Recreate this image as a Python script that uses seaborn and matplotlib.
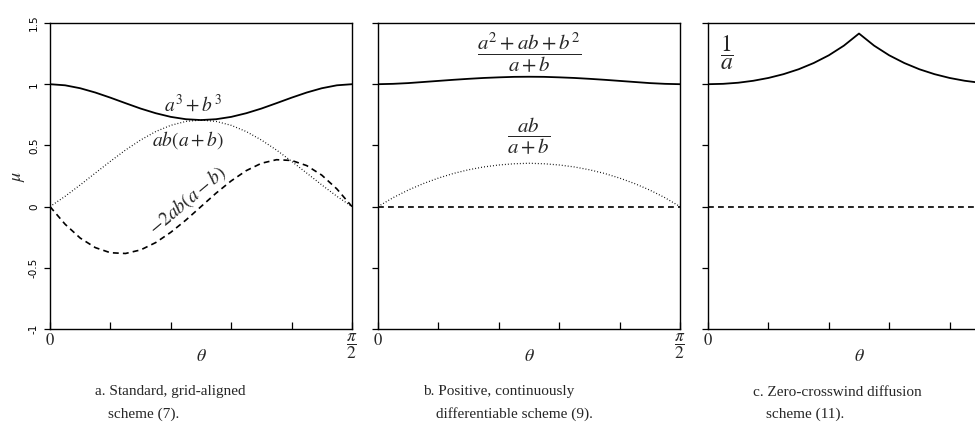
import matplotlib
matplotlib.use("Agg")
import matplotlib.pyplot as plt
import seaborn as sns
import pandas as pd

# angulo theta em graus (0 .. pi/2)
theta = [0, 4.5, 9, 13.5, 18, 22.5, 27, 31.5, 36, 40.5, 45,
         49.5, 54, 58.5, 63, 67.5, 72, 76.5, 81, 85.5, 90]

# painel a: esquema padrao
a3_b3 = [1.000, 0.991, 0.967, 0.932, 0.890, 0.845, 0.801, 0.763, 0.733, 0.714, 0.707,
         0.714, 0.733, 0.763, 0.801, 0.845, 0.890, 0.932, 0.967, 0.991, 1.000]
ab_apb = [0.000, 0.084, 0.177, 0.274, 0.370, 0.462, 0.544, 0.613, 0.664, 0.696, 0.707,
          0.696, 0.664, 0.613, 0.544, 0.462, 0.370, 0.274, 0.177, 0.084, 0.000]
m2ab_amb = [0.000, -0.144, -0.257, -0.335, -0.377, -0.383, -0.354, -0.294, -0.210, -0.110, 0.000,
            0.110, 0.210, 0.294, 0.354, 0.383, 0.377, 0.335, 0.257, 0.144, 0.000]

# painel b: positivo, continuamente diferenciavel
pos_top = [1.000, 1.003, 1.009, 1.018, 1.027, 1.036, 1.044, 1.051, 1.056, 1.060, 1.061,
           1.060, 1.056, 1.051, 1.044, 1.036, 1.027, 1.018, 1.009, 1.003, 1.000]
pos_low = [0.000, 0.073, 0.135, 0.188, 0.233, 0.271, 0.301, 0.324, 0.340, 0.350, 0.354,
           0.350, 0.340, 0.324, 0.301, 0.271, 0.233, 0.188, 0.135, 0.073, 0.000]

# painel c: difusao transversal nula
zc_top = [1.000, 1.003, 1.012, 1.028, 1.051, 1.082, 1.122, 1.173, 1.236, 1.315, 1.414,
          1.315, 1.236, 1.173, 1.122, 1.082, 1.051, 1.028, 1.012, 1.003, 1.000]

theta_ends = [0, 90]
flat = [0.0, 0.0]

y_ticks = [-1, -0.5, 0, 0.5, 1, 1.5]
y_ticklabels = ['-1', '-0.5', '0', '0.5', '1', '1.5']

captions = [("a. Standard, grid-aligned", "scheme (7)."),
            ("b. Positive, continuously", "differentiable scheme (9)."),
            ("c. Zero-crosswind diffusion", "scheme (11).")]

# preparativos
sns.set_theme(style="ticks")
plt.rcParams['mathtext.fontset'] = 'stix'
plt.rcParams['font.family'] = ['DejaVu Sans']

fig = plt.figure(figsize=(9.75, 4.38), dpi=100)
W, H = 975, 438
lefts = [50, 378, 708]
axes = [fig.add_axes([l / W, 1 - 329 / H, 302 / W, 306 / H]) for l in lefts]

df = pd.DataFrame({'theta': theta, 'a3': a3_b3, 'ab': ab_apb, 'm2': m2ab_amb,
                   'pt': pos_top, 'pl': pos_low, 'zc': zc_top})
dz = pd.DataFrame({'theta': theta_ends, 'y': flat})

solid = dict(color='black', linewidth=1.3)
dashed = dict(color='black', linewidth=1.2, dashes=(3.5, 2.5))
dotted = dict(color='black', linewidth=0.9, dashes=(0.7, 1.7))

ax = axes[0]
sns.lineplot(data=df, x='theta', y='a3', ax=ax, **solid)
sns.lineplot(data=df, x='theta', y='ab', ax=ax, **dotted)
sns.lineplot(data=df, x='theta', y='m2', ax=ax, **dashed)

ax = axes[1]
sns.lineplot(data=df, x='theta', y='pt', ax=ax, **solid)
sns.lineplot(data=df, x='theta', y='pl', ax=ax, **dotted)
sns.lineplot(data=dz, x='theta', y='y', ax=ax, **dashed)

ax = axes[2]
sns.lineplot(data=df, x='theta', y='zc', ax=ax, **solid)
sns.lineplot(data=dz, x='theta', y='y', ax=ax, **dashed)

for i, ax in enumerate(axes):
    ax.set_xlim(0, 90)
    ax.set_ylim(-1, 1.5)
    ax.set_xlabel('')
    ax.set_ylabel('')
    for s in ax.spines.values():
        s.set_visible(True)
        s.set_linewidth(1.0)
        s.set_color('black')
    ax.set_xticks([0, 18, 36, 54, 72, 90])
    ax.set_xticklabels([])
    ax.tick_params(axis='x', direction='in', length=5, width=0.9, colors='black')
    ax.set_yticks(y_ticks)
    if i == 0:
        ax.set_yticklabels(y_ticklabels, rotation=90, va='center', fontsize=7.5)
    else:
        ax.set_yticklabels([])
    ax.tick_params(axis='y', direction='out', length=4, width=0.9, colors='black',
                   pad=4)
    # rotulos do eixo x
    ax.text(0, -1.1, '0', ha='center', va='center', fontsize=12,
            family='STIXGeneral', clip_on=False)
    ax.text(45, -1.22, r'$\theta$', ha='center', va='center', fontsize=13,
            clip_on=False)
    if i < 2:
        ax.text(90, -1.14, r'$\dfrac{\pi}{2}$', ha='center', va='center',
                fontsize=12.5, clip_on=False)
    # legendas das figuras
    l1, l2 = captions[i]
    fig.text((lefts[i] + 45) / W, 1 - 392 / H, l1, ha='left', va='center',
             fontsize=11, family='Liberation Serif')
    fig.text((lefts[i] + 58) / W, 1 - 414 / H, l2, ha='left', va='center',
             fontsize=11, family='Liberation Serif')

fig.text(18 / W, 1 - 176 / H, r'$\mu$', rotation=90, ha='center', va='center',
         fontsize=13)

# anotacoes das curvas
axes[0].text(42.5, 0.84, r'$a^3+b^3$', ha='center', va='center', fontsize=14)
axes[0].text(41, 0.54, r'$ab(a+b)$', ha='center', va='center', fontsize=14)
axes[0].text(41, 0.05, r'$-2ab(a-b)$', ha='center', va='center', fontsize=14,
             rotation=40)
axes[1].text(45, 1.26, r'$\dfrac{a^2+ab+b^2}{a+b}$', ha='center', va='center',
             fontsize=15)
axes[1].text(45, 0.57, r'$\dfrac{ab}{a+b}$', ha='center', va='center', fontsize=15)
axes[2].text(5.5, 1.26, r'$\dfrac{1}{a}$', ha='center', va='center', fontsize=17)

fig.savefig('out.png', dpi=100)
